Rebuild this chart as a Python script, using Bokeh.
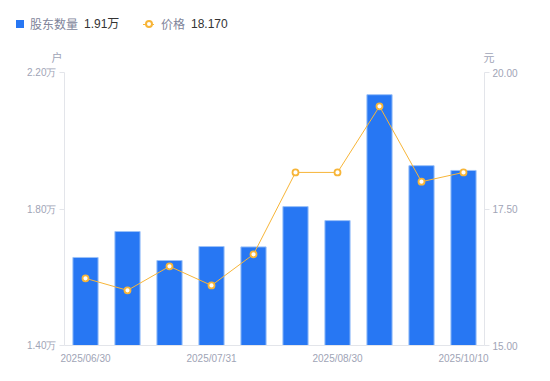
from bokeh.plotting import figure
from bokeh.layouts import column
from bokeh.models import Range1d, LinearAxis, FixedTicker, ColumnDataSource, Div
from bokeh.embed import file_html
from bokeh.resources import INLINE

# ---- data ----
x_idx = [0, 1, 2, 3, 4, 5, 6, 7, 8, 9]
tick_pos = [0, 3, 6, 9]
tick_labels = ["2025/06/30", "2025/07/31", "2025/08/30", "2025/10/10"]
holders = [1.658, 1.734, 1.649, 1.690, 1.689, 1.807, 1.766, 2.135, 1.927, 1.913]  # 万户
price = [16.23, 16.01, 16.45, 16.10, 16.67, 18.17, 18.17, 19.38, 18.00, 18.17]
left_ticks = [1.40, 1.80, 2.20]
right_ticks = [15.00, 17.50, 20.00]
series_names = ["股东数量", "价格"]
units = ["户", "元"]

FONT = "Liberation Sans"
CJK = "Noto Sans CJK SC"
GREY = "#a0a4b6"
AXIS = "#e3e5ea"
BLUE = "#2777f3"
ORANGE = "#f7b538"
W = 541
H = 64

# ---------------- header (legend + unit titles) ----------------
def txt(left, s, color, size=12, top=17, width=None, align="left", font=CJK):
    w = f"width:{width}px;" if width else ""
    return (f'<span style="position:absolute;left:{left}px;top:{top}px;{w}height:14px;'
            f'line-height:14px;font-size:{size}px;color:{color};text-align:{align};'
            f'white-space:nowrap;font-family:\'{font}\',\'{CJK}\',sans-serif;">{s}</span>')

html = (
    f'<div style="position:relative;width:{W}px;height:{H}px;margin:0;padding:0;">'
    f'<span style="position:absolute;left:16px;top:20px;width:8px;height:8px;'
    f'background:{BLUE};"></span>'
    + txt(30, series_names[0], "#80849a")
    + txt(84, f"{holders[-1]:.2f}万", "#333333", font=FONT)
    + f'<span style="position:absolute;left:143px;top:23.5px;width:11px;height:1px;'
      f'background:{ORANGE};"></span>'
    + f'<span style="position:absolute;left:145px;top:20px;width:8px;height:8px;'
      f'box-sizing:border-box;border:2px solid {ORANGE};border-radius:50%;'
      f'background:#fff;"></span>'
    + txt(161, series_names[1], "#80849a")
    + txt(191, f"{price[-1]:.3f}", "#333333", font=FONT)
    + txt(47, units[0], GREY, size=11, top=50, width=20, align="center")
    + txt(479, units[1], GREY, size=11, top=50, width=20, align="center")
    + '</div>'
)
hdr = Div(text=html, width=W, height=H, margin=0)

# ---------------- main chart ----------------
src = ColumnDataSource(dict(x=x_idx, h=holders, p=price))

p = figure(width=W, height=8 + 273 + 27, output_backend="svg", toolbar_location=None,
           x_range=Range1d(-0.5, 9.5), y_range=Range1d(1.40, 2.20),
           min_border_left=64, min_border_right=57, min_border_top=8,
           min_border_bottom=27)
p.extra_y_ranges = {"price": Range1d(15.0, 20.0)}
p.outline_line_color = None
p.xgrid.visible = False
p.ygrid.visible = False

p.vbar(x="x", top="h", bottom=1.40, width=0.6, source=src,
       fill_color=BLUE, line_color="#9cc2f8", line_width=1)
p.line(x="x", y="p", source=src, y_range_name="price",
       line_color=ORANGE, line_width=1)
p.scatter(x="x", y="p", source=src, y_range_name="price", size=6,
          fill_color="white", line_color=ORANGE, line_width=1.8)

xa = p.xaxis[0]
xa.ticker = FixedTicker(ticks=tick_pos)
xa.major_label_overrides = {t: l for t, l in zip(tick_pos, tick_labels)}
xa.axis_line_color = AXIS
xa.major_tick_line_color = None
xa.major_tick_out = 0
xa.major_tick_in = 0
xa.minor_tick_line_color = None
xa.major_label_text_color = GREY
xa.major_label_text_font = FONT
xa.major_label_text_font_size = "10px"
xa.major_label_standoff = 7

ya = p.yaxis[0]
ya.ticker = FixedTicker(ticks=left_ticks)
ya.major_label_overrides = {t: f"{t:.2f}万" for t in left_ticks}
ya.axis_line_color = AXIS
ya.major_tick_line_color = AXIS
ya.major_tick_out = 5
ya.major_tick_in = 0
ya.minor_tick_line_color = None
ya.major_label_text_color = GREY
ya.major_label_text_font = FONT
ya.major_label_text_font_size = "10px"
ya.major_label_standoff = 3

ra = LinearAxis(y_range_name="price", ticker=FixedTicker(ticks=right_ticks))
ra.major_label_overrides = {t: f"{t:.2f}" for t in right_ticks}
ra.axis_line_color = AXIS
ra.major_tick_line_color = AXIS
ra.major_tick_out = 5
ra.major_tick_in = 0
ra.minor_tick_line_color = None
ra.major_label_text_color = GREY
ra.major_label_text_font = FONT
ra.major_label_text_font_size = "10px"
ra.major_label_standoff = 3
p.add_layout(ra, "right")

layout = column(hdr, p, spacing=0)
open("out.html", "w").write(file_html(layout, INLINE))
